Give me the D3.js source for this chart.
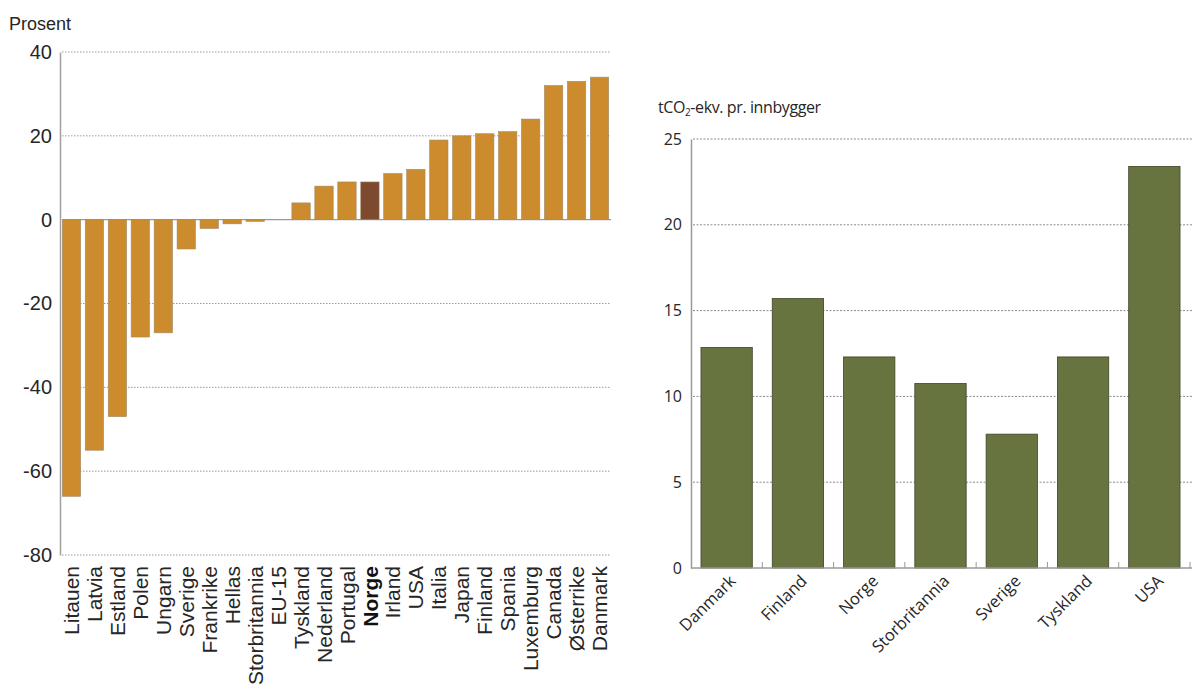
<!DOCTYPE html>
<html>
<head>
<meta charset="utf-8">
<script src="https://cdn.jsdelivr.net/npm/d3@7"></script>
<style>
  body { margin: 0; background: #fff; }
  svg { display: block; }
</style>
</head>
<body>
<svg id="chart" width="1194" height="697"></svg>
<script>
// Left chart: change in emissions, percent
const leftCountries = ['Litauen', 'Latvia', 'Estland', 'Polen', 'Ungarn', 'Sverige', 'Frankrike',
  'Hellas', 'Storbritannia', 'EU-15', 'Tyskland', 'Nederland', 'Portugal', 'Norge', 'Irland',
  'USA', 'Italia', 'Japan', 'Finland', 'Spania', 'Luxemburg', 'Canada', 'Østerrike', 'Danmark'];
const leftValues = [-66, -55, -47, -28, -27, -7, -2.1, -1, -0.4, 0, 4, 8, 9, 9, 11,
  12, 19, 20, 20.5, 21, 24, 32, 33, 34];
const leftTicks = [40, 20, 0, -20, -40, -60, -80];
const highlight = 'Norge';

// Right chart: tCO2-eq per inhabitant
const rightCountries = ['Danmark', 'Finland', 'Norge', 'Storbritannia', 'Sverige', 'Tyskland', 'USA'];
const rightValues = [12.85, 15.7, 12.3, 10.75, 7.8, 12.3, 23.4];
const rightTicks = [0, 5, 10, 15, 20, 25];

const svg = d3.select('#chart');
const textColor = '#262626';
const gridColor = '#9a9a9a';

// ---------- Left chart ----------
const L = { left: 60, right: 611, top: 52, bottom: 555 };

let xL = d3.scaleBand()
  .domain(leftCountries)
  .range([L.left, L.right])
  .paddingInner(0.2)
  .paddingOuter(0.1);

let yL = d3.scaleLinear()
  .domain([-80, 40])
  .range([L.bottom, L.top]);

let left = svg.append('g').attr('id', 'left-chart');

// gridlines (dotted), zero line solid
left.selectAll('.grid')
  .data(leftTicks)
  .enter()
  .append('line')
  .attr('x1', L.left + 2)
  .attr('x2', L.right)
  .attr('y1', d => yL(d))
  .attr('y2', d => yL(d))
  .style('stroke', gridColor)
  .style('stroke-width', d => d == 0 ? 1.2 : 1)
  .style('stroke-dasharray', d => d == 0 ? null : '1.5,1.5');

left.selectAll('.bar')
  .data(leftCountries)
  .enter()
  .append('rect')
  .attr('x', d => xL(d))
  .attr('width', xL.bandwidth())
  .attr('y', (d, i) => yL(Math.max(0, leftValues[i])))
  .attr('height', (d, i) => Math.abs(yL(leftValues[i]) - yL(0)))
  .attr('fill', d => d == highlight ? '#7e4a2f' : '#cc8b2c')
  .attr('stroke', '#a08a6a')
  .attr('stroke-width', 0.6);

// y axis (plain hyphen for negatives, as in the original)
let yAxisL = d3.axisLeft(yL)
  .tickValues(leftTicks)
  .tickFormat(d => String(d))
  .tickSize(0)
  .tickPadding(8);
let gyL = left.append('g')
  .attr('transform', `translate(${L.left}, 0)`)
  .call(yAxisL);
gyL.select('.domain').style('stroke', '#a0a0a0').style('stroke-width', 1.5);
gyL.selectAll('text')
  .style('font-family', '"Liberation Sans", Arial, sans-serif')
  .style('font-size', '20px')
  .style('fill', textColor);

// x labels, rotated
left.selectAll('.xlabel')
  .data(leftCountries)
  .enter()
  .append('text')
  .text(d => d)
  .attr('text-anchor', 'end')
  .attr('dy', '0.36em')
  .attr('transform', d => `translate(${xL(d) + xL.bandwidth() / 2}, 566) rotate(-90)`)
  .style('font-family', '"Liberation Sans", Arial, sans-serif')
  .style('font-size', '21px')
  .style('font-weight', d => d == highlight ? 'bold' : 'normal')
  .style('fill', d => d == highlight ? '#111' : textColor);

left.append('text')
  .text('Prosent')
  .attr('x', 9)
  .attr('y', 30)
  .style('font-family', '"Liberation Sans", Arial, sans-serif')
  .style('font-size', '18px')
  .style('fill', textColor);

// ---------- Right chart ----------
const R = { left: 691, right: 1190, top: 139, bottom: 568 };

let xR = d3.scaleBand()
  .domain(rightCountries)
  .range([R.left, R.right])
  .paddingInner(0.28)
  .paddingOuter(0.14);

let yR = d3.scaleLinear()
  .domain([0, 25])
  .range([R.bottom, R.top]);

let right = svg.append('g').attr('id', 'right-chart');

right.selectAll('.grid')
  .data(rightTicks.filter(d => d > 0))
  .enter()
  .append('line')
  .attr('x1', R.left + 2)
  .attr('x2', R.right + 2)
  .attr('y1', d => yR(d))
  .attr('y2', d => yR(d))
  .style('stroke', '#8a8a8a')
  .style('stroke-width', 1)
  .style('stroke-dasharray', '2,1.5');

right.selectAll('.bar')
  .data(rightCountries)
  .enter()
  .append('rect')
  .attr('x', d => xR(d))
  .attr('width', xR.bandwidth())
  .attr('y', (d, i) => yR(rightValues[i]))
  .attr('height', (d, i) => yR(0) - yR(rightValues[i]))
  .attr('fill', '#68743f')
  .attr('stroke', '#3d4426')
  .attr('stroke-width', 0.8);

// x axis line and small ticks at band edges
right.append('line')
  .attr('x1', R.left)
  .attr('x2', R.right + 2)
  .attr('y1', R.bottom)
  .attr('y2', R.bottom)
  .style('stroke', '#9a9a9a')
  .style('stroke-width', 1.5);

right.selectAll('.xtick')
  .data(rightCountries.slice(1).concat(['end']))
  .enter()
  .append('line')
  .attr('x1', (d, i) => R.left + xR.step() * (i + 1))
  .attr('x2', (d, i) => R.left + xR.step() * (i + 1))
  .attr('y1', R.bottom)
  .attr('y2', R.bottom - 6)
  .style('stroke', '#9a9a9a')
  .style('stroke-width', 1);

let yAxisR = d3.axisLeft(yR).tickValues(rightTicks).tickSize(0).tickPadding(9);
let gyR = right.append('g')
  .attr('transform', `translate(${R.left}, 0)`)
  .call(yAxisR);
gyR.select('.domain').style('stroke', '#9a9a9a').style('stroke-width', 1.5);
gyR.selectAll('text')
  .style('font-family', '"Open Sans", "Noto Sans", sans-serif')
  .style('font-size', '16px')
  .style('fill', textColor);

right.selectAll('.xlabel')
  .data(rightCountries)
  .enter()
  .append('text')
  .text(d => d)
  .attr('text-anchor', 'end')
  .attr('transform', d => `translate(${xR(d) + xR.bandwidth() / 2 + 10}, 582) rotate(-45)`)
  .style('font-family', '"Open Sans", "Noto Sans", sans-serif')
  .style('font-size', '16.5px')
  .style('fill', textColor);

// unit title with subscript
let title = right.append('text')
  .attr('x', 658)
  .attr('y', 113)
  .style('font-family', '"Open Sans", "Noto Sans", sans-serif')
  .style('font-size', '16px')
  .style('letter-spacing', '-0.4px')
  .style('fill', textColor);
title.append('tspan').text('tCO');
title.append('tspan').text('2').attr('dy', 3).style('font-size', '10px');
title.append('tspan').text('-ekv. pr. innbygger').attr('dy', -3);
</script>
</body>
</html>
